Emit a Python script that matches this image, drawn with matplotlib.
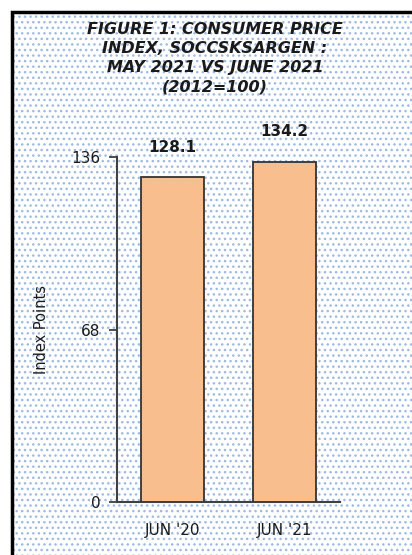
import matplotlib.pyplot as plt
from matplotlib.patches import Rectangle

# --- datos ---
categorias = ["JUN '20", "JUN '21"]
valores = [128.1, 134.2]
ticks_y = [0, 68, 136]
titulo = "FIGURE 1: CONSUMER PRICE\nINDEX, SOCCSKSARGEN :\nMAY 2021 VS JUNE 2021\n(2012=100)"

plt.rcParams['font.family'] = ['DejaVu Sans']
plt.rcParams['hatch.linewidth'] = 1.0

fig = plt.figure(figsize=(4.12, 5.55), dpi=100)
fig.patch.set_facecolor('white')

# fondo punteado con marco negro (só bordes esquerdo e superior visibles)
x0, y1 = 12 / 412, 1 - 12 / 555
fondo = Rectangle((x0, -0.05), 1.1, y1 + 0.05,
                  transform=fig.transFigure, facecolor='white',
                  edgecolor='#9dbae3', linewidth=0, hatch='...', zorder=-2)
fig.patches.append(fondo)
marco = Rectangle((x0, -0.05), 1.1, y1 + 0.05,
                  transform=fig.transFigure, facecolor='none',
                  edgecolor='black', linewidth=2.5, zorder=-1)
fig.patches.append(marco)

ax = fig.add_axes([117 / 412, 1 - 502 / 555, (340 - 117) / 412, (502 - 157) / 555])
ax.patch.set_alpha(0)

x = range(len(categorias))
ax.bar(x, valores, width=0.565, color='#f8be8e',
       edgecolor='#333333', linewidth=1.3, zorder=3)

for xi, v in zip(x, valores):
    ax.annotate(f"{v:.1f}", (xi, v), xytext=(0, 16), textcoords='offset points',
                ha='center', va='bottom', fontsize=11, fontweight='bold',
                color='#1a1a1a')

ax.set_xlim(-0.5, 1.5)
ax.set_ylim(0, 136)
ax.set_yticks(ticks_y)
ax.set_yticklabels([str(t) for t in ticks_y], fontsize=11, color='#1a1a1a')
ax.set_xticks(list(x))
ax.set_xticklabels(categorias, fontsize=11, color='#1a1a1a')
ax.tick_params(axis='x', length=0, pad=15)
ax.tick_params(axis='y', length=6, width=1.3, color='#404040', pad=6)

for lado in ['top', 'right']:
    ax.spines[lado].set_visible(False)
for lado in ['left', 'bottom']:
    ax.spines[lado].set_color('#404040')
    ax.spines[lado].set_linewidth(1.5)

ax.set_ylabel("Index Points", fontsize=10.5, color='#1a1a1a', labelpad=16)

fig.text(215 / 412, 1 - 22 / 555, titulo, ha='center', va='top',
         fontsize=11.5, fontweight='bold', fontstyle='italic',
         color='#1a1a1a', linespacing=1.35)

fig.savefig('out.png', dpi=100)
